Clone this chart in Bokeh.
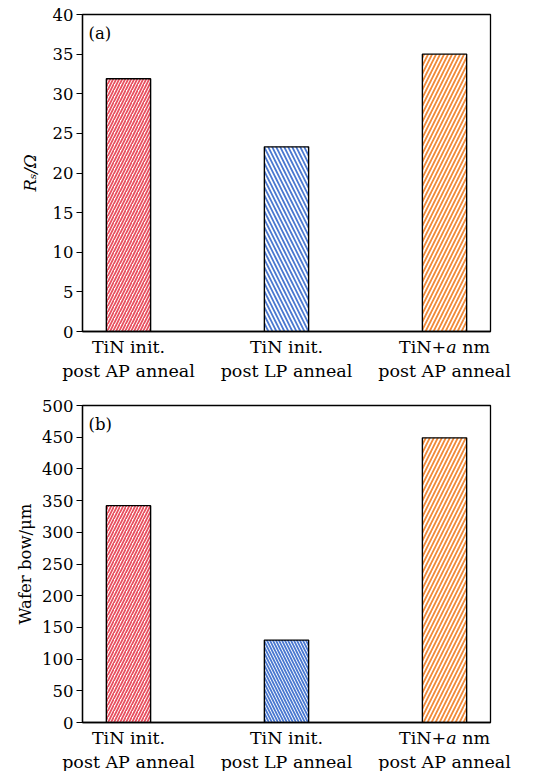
from bokeh.plotting import figure
from bokeh.layouts import column
from bokeh.models import Range1d, FixedTicker, Label
from bokeh.embed import file_html
from bokeh.resources import INLINE

categories = ["TiN init.\npost AP anneal", "TiN init.\npost LP anneal", "TiN+\U0001D44E nm\npost AP anneal"]
rs_values = [31.9, 23.3, 35.0]
bow_values = [342, 130, 449]
bar_colors = ["#E8505F", "#4A78D0", "#F08A3A"]
hatches = ["right_diagonal_line", "left_diagonal_line", "right_diagonal_line"]

FONT = "DejaVu Serif"
FS = "16.5px"
XFS = "17.5px"
xs = list(range(len(categories)))


def make(values, ymax, step, ylabel, panel, top, bottom, hscales):
    p = figure(frame_width=408, frame_height=317, output_backend="svg", toolbar_location=None,
               x_range=Range1d(-0.291, 2.291), y_range=Range1d(0, ymax),
               min_border_left=82, min_border_right=43, min_border_top=top, min_border_bottom=bottom)
    for i in xs:
        p.vbar(x=[xs[i]], top=[values[i]], width=0.28, fill_color="white",
               line_color="black", line_width=1.4,
               hatch_pattern=hatches[i], hatch_color=bar_colors[i],
               hatch_scale=hscales[i], hatch_weight=1.8)
    p.grid.visible = False
    p.outline_line_color = "black"
    p.outline_line_width = 1.3
    p.xaxis.ticker = FixedTicker(ticks=xs)
    p.xaxis.major_label_overrides = {i: categories[i] for i in xs}
    p.xaxis.major_tick_out = 0
    p.xaxis.major_tick_in = 0
    p.xaxis.minor_tick_out = 0
    p.xaxis.minor_tick_in = 0
    p.xaxis.major_label_standoff = 5
    p.yaxis.ticker = FixedTicker(ticks=list(range(0, ymax + 1, step)))
    p.yaxis.major_tick_out = 6
    p.yaxis.major_tick_in = 0
    p.yaxis.minor_tick_out = 0
    p.yaxis.minor_tick_in = 0
    p.yaxis.major_label_standoff = 3
    p.yaxis.axis_label = ylabel
    for ax in (p.xaxis, p.yaxis):
        ax.axis_line_color = "black"
        ax.axis_line_width = 1.3
        ax.major_tick_line_color = "black"
        ax.major_tick_line_width = 1.2
        ax.major_label_text_font = FONT
        ax.major_label_text_font_size = FS
        ax.major_label_text_color = "black"
        ax.axis_label_text_font = FONT
        ax.axis_label_text_font_size = FS
        ax.axis_label_text_font_style = "normal"
        ax.axis_label_text_color = "black"
    p.xaxis.major_label_text_font_size = XFS
    p.add_layout(Label(x=6, y=317 - 19, x_units="screen", y_units="screen", text=panel,
                       text_font=FONT, text_font_size=FS, text_baseline="middle",
                       text_color="black"))
    return p


p1 = make(rs_values, 40, 5, "R\u209B/\u03A9", "(a)", 14, 56, [6, 8, 8])
p1.yaxis.axis_label_text_font_style = "italic"
p1.yaxis.axis_label_standoff = 10
p2 = make(bow_values, 500, 50, "Wafer bow/\u03BCm", "(b)", 18, 49, [6, 6, 8])
p2.yaxis.axis_label_standoff = 4

layout = column(p1, p2, spacing=0)
open("out.html", "w").write(file_html(layout, INLINE))
